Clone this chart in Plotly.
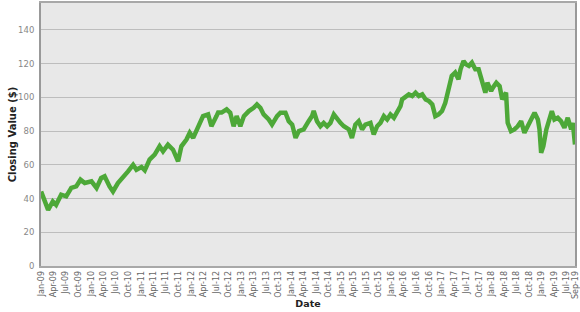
import plotly.graph_objects as go
import pandas as pd

dates = [
    "2009-01-02", "2009-02-22", "2009-03-28", "2009-04-21", "2009-05-28", "2009-07-04",
    "2009-08-10", "2009-09-15", "2009-10-16", "2009-11-16", "2010-01-04", "2010-02-10",
    "2010-03-16", "2010-04-10", "2010-05-16", "2010-06-10", "2010-07-16", "2010-08-22",
    "2010-09-28", "2010-11-04", "2010-11-28", "2011-01-04", "2011-01-28", "2011-03-04",
    "2011-04-10", "2011-05-16", "2011-06-10", "2011-07-16", "2011-08-22", "2011-09-28",
    "2011-10-22", "2011-11-28", "2011-12-22", "2012-01-16", "2012-02-22", "2012-03-28",
    "2012-05-04", "2012-05-28", "2012-07-04", "2012-07-16", "2012-08-10", "2012-09-16",
    "2012-10-12", "2012-11-06", "2012-11-28", "2012-12-25", "2013-01-20", "2013-02-25",
    "2013-04-01", "2013-04-25", "2013-05-20", "2013-06-13", "2013-07-20", "2013-08-13",
    "2013-09-19", "2013-10-13", "2013-11-19", "2013-12-13", "2014-01-07", "2014-02-01",
    "2014-02-25", "2014-04-01", "2014-05-07", "2014-06-01", "2014-06-13", "2014-07-07",
    "2014-08-01", "2014-08-25", "2014-09-19", "2014-10-13", "2014-11-07", "2014-12-01",
    "2014-12-25", "2015-01-19", "2015-02-25", "2015-03-19", "2015-04-13", "2015-05-07",
    "2015-06-01", "2015-06-25", "2015-08-01", "2015-08-25", "2015-09-19", "2015-10-13",
    "2015-11-07", "2015-12-01", "2015-12-25", "2016-01-19", "2016-02-13", "2016-03-07",
    "2016-03-19", "2016-04-13", "2016-05-07", "2016-06-01", "2016-06-25", "2016-07-19",
    "2016-08-13", "2016-09-07", "2016-10-01", "2016-10-25", "2016-11-16", "2016-12-10",
    "2017-01-04", "2017-01-28", "2017-02-22", "2017-03-16", "2017-04-10", "2017-05-04",
    "2017-05-19", "2017-06-10", "2017-06-28", "2017-07-19", "2017-08-10", "2017-09-04",
    "2017-09-28", "2017-10-22", "2017-11-16", "2017-12-01", "2017-12-28", "2018-01-10",
    "2018-02-04", "2018-02-28", "2018-03-19", "2018-04-16", "2018-04-28", "2018-05-22",
    "2018-06-16", "2018-07-10", "2018-08-04", "2018-08-28", "2018-09-22", "2018-10-16",
    "2018-11-10", "2018-12-04", "2018-12-16", "2018-12-28", "2019-01-13", "2019-02-04",
    "2019-02-28", "2019-03-16", "2019-04-04", "2019-04-28", "2019-05-22", "2019-06-16",
    "2019-07-10", "2019-08-04", "2019-08-16", "2019-09-01",
]

closing_values = [
    44.2, 33.3, 38.3, 36.3, 42.3, 41.3,
    46.3, 47.2, 51.2, 49.2, 50.2, 46.3,
    52.2, 53.2, 47.2, 44.2, 49.2, 52.2,
    56.1, 60.0, 57.1, 58.7, 56.7, 63.1,
    66.1, 71.0, 68.0, 72.0, 69.0, 62.1,
    71.0, 75.0, 79.0, 76.0, 82.9, 88.9,
    89.9, 82.9, 88.9, 91.0, 91.0, 92.9,
    90.9, 82.9, 88.9, 82.9, 88.9, 91.9,
    93.8, 95.8, 93.8, 89.9, 86.9, 83.9,
    88.9, 90.9, 90.9, 85.9, 83.9, 76.0,
    80.0, 81.0, 85.9, 88.9, 91.9, 85.9,
    82.9, 84.9, 82.9, 84.9, 89.9, 86.9,
    84.9, 82.9, 81.0, 76.0, 83.9, 85.9,
    81.0, 83.9, 84.9, 78.0, 82.9, 84.9,
    88.9, 86.9, 89.9, 87.9, 90.9, 94.8,
    98.8, 100.8, 101.8, 100.8, 102.8, 100.8,
    101.8, 98.8, 97.8, 95.8, 88.9, 89.9,
    91.9, 96.8, 106.7, 112.7, 114.7, 110.7,
    116.7, 121.6, 119.6, 118.7, 120.6, 116.7,
    116.7, 109.7, 102.8, 108.7, 103.8, 105.8,
    108.7, 106.7, 98.8, 102.8, 84.9, 80.0,
    81.0, 82.9, 85.9, 79.0, 82.9, 87.9,
    90.9, 86.9, 81.0, 67.1, 71.0, 81.0,
    86.9, 91.9, 86.9, 87.9, 85.9, 82.0,
    87.9, 81.0, 84.9, 72.0,
]

tick_dates = [d.strftime("%Y-%m-%d") for d in pd.date_range("2009-01-01", "2019-07-01", freq="QS")] + ["2019-09-01"]
tick_labels = [pd.Timestamp(d).strftime("%b-%y") for d in tick_dates]

y_ticks = [0, 20, 40, 60, 80, 100, 120, 140]

fig = go.Figure()
fig.add_trace(go.Scatter(
    x=dates, y=closing_values, mode="lines",
    line=dict(color="#4da838", width=4.5),
))

fig.update_layout(
    width=580, height=312,
    margin=dict(l=41, r=5, t=3, b=46),
    paper_bgcolor="white",
    plot_bgcolor="#e8e8e8",
    showlegend=False,
    font=dict(family="DejaVu Sans", size=8, color="#777777"),
    xaxis=dict(
        type="date",
        range=["2009-01-01", "2019-09-01"],
        tickvals=tick_dates,
        ticktext=tick_labels,
        tickangle=-90,
        tickfont=dict(size=8, color="#666666"),
        showgrid=False,
        showline=True, linecolor="#a8a8a8", linewidth=1.5, mirror=True,
        ticks="",
        automargin=False,
        title=dict(text="<b>Date</b>", font=dict(size=9.5, color="#222222"), standoff=2),
    ),
    yaxis=dict(
        range=[0, 156],
        tickvals=y_ticks,
        tickfont=dict(size=8.5, color="#888888"),
        showgrid=True, gridcolor="#bdbdbd", gridwidth=1.3,
        zeroline=False,
        showline=True, linecolor="#999999", linewidth=2, mirror=True,
        ticks="outside", ticklen=3, tickcolor="rgba(0,0,0,0)",
        automargin=False,
        title=dict(text="<b>Closing Value ($)</b>", font=dict(size=10, color="#222222"), standoff=0),
    ),
)

fig.write_html("out.html")
